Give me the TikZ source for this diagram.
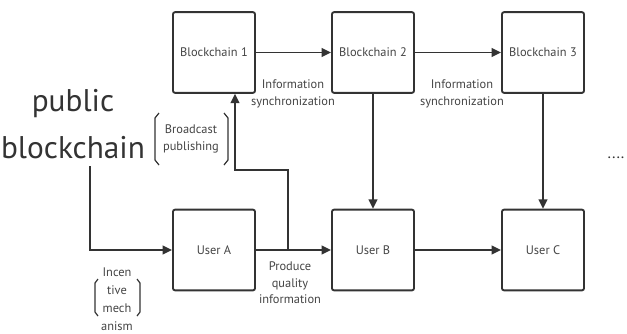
\documentclass[tikz,border=0pt]{standalone}
\usepackage{fontspec}
\setmainfont{PT Sans}
\usetikzlibrary{arrows.meta}
\definecolor{ink}{HTML}{333333}
\definecolor{txt}{HTML}{444444}
\begin{document}
\begin{tikzpicture}[x=0.75pt,y=-0.75pt,
  box/.style={draw=ink,line width=1.4pt,rounded corners=1.5pt,minimum width=61.5pt,minimum height=60.5pt,inner sep=0pt,font=\fontsize{9.3}{11}\selectfont,text=txt},
  lbl/.style={font=\fontsize{9.3}{12.5}\selectfont,text=txt,align=center,inner sep=0pt},
  conn/.style={draw=ink,line width=1.4pt},
  arr/.style={conn,-{Triangle[length=7pt,width=6.5pt]}},
  brk/.style={draw=ink,line width=0.9pt,line join=round}]
\useasboundingbox (0,0) rectangle (627,333);
\node[box] (b1) at (214,52.5) {Blockchain 1};
\node[box] (b2) at (373,52.5) {Blockchain 2};
\node[box] (b3) at (543,52.5) {Blockchain 3};
\node[box] (ua) at (214,250) {User A};
\node[box] (ub) at (373,250) {User B};
\node[box] (uc) at (543,250) {User C};
\node[lbl,font=\fontsize{23.5}{35}\selectfont,text=ink] (pb) at (73,124) {public\\blockchain};
\draw[arr] (b1) -- (b2);
\draw[arr] (b2) -- (b3);
\draw[arr] (b2) -- (ub);
\draw[arr] (b3) -- (uc);
\draw[arr] (ua) -- (ub);
\draw[arr] (ub) -- (uc);
\coordinate (pbs) at (90,166);
\draw[arr] (pbs) |- (ua);
\coordinate (fb) at (288,250);
\coordinate (fc) at (235,170);
\draw[arr] (fb) |- (fc) -- (fc |- b1.south);
\node[lbl] (is1) at (293,94) {Information\\synchronization};
\node[lbl] (is2) at (462,94) {Information\\synchronization};
\node[lbl] (pq) at (290,283) {Produce\\quality\\information};
\node[lbl] (bp) at (191,139) {Broadcast\\publishing};
\draw[brk] (159,113) -- (155,118) -- (155,160) -- (159,165);
\draw[brk] (224,113) -- (228,118) -- (228,160) -- (224,165);
\node[lbl,font=\fontsize{9.3}{13.5}\selectfont] (im) at (117,299) {Incen\\tive\\mech\\anism};
\draw[brk] (98,279) -- (95,283) -- (95,312) -- (98,316);
\draw[brk] (137,279) -- (140,283) -- (140,312) -- (137,316);
\node[lbl,font=\fontsize{12}{12}\selectfont,text=ink] (dots) at (616,158) {....};
\end{tikzpicture}
\end{document}
